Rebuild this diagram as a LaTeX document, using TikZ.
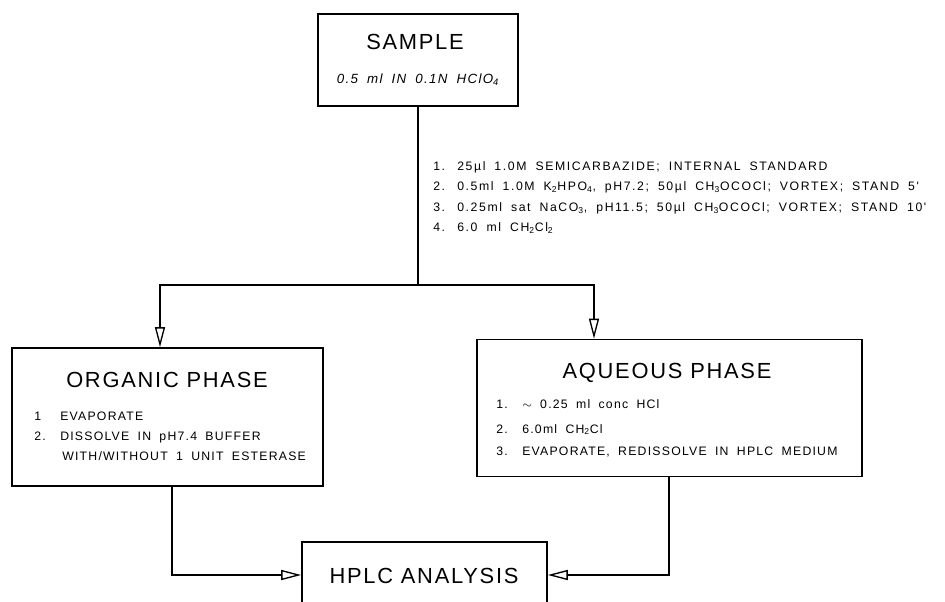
\documentclass[tikz,border=0pt]{standalone}
\usepackage{fontspec}
\setmainfont{Liberation Sans}[LetterSpace=8]
\newfontfamily\stepfont{Liberation Sans}[LetterSpace=10, WordSpace=1.8]
\newfontfamily\mixfont{Liberation Sans}[LetterSpace=13, WordSpace=1.8]
\usetikzlibrary{arrows.meta}

\tikzset{
    stage/.style={draw, line width=1.2pt, inner sep=0pt},
    link/.style={line width=0.9pt},
    flow/.style={link, -{Triangle[open, length=15pt, width=7.5pt, line width=1pt]}},
    title/.style={anchor=base, inner sep=0pt, font=\fontsize{16.4}{18}\selectfont},
    entry/.style={anchor=base west, inner sep=0pt, font=\stepfont\fontsize{9.2}{11}\selectfont},
    mixentry/.style={entry, font=\mixfont\fontsize{9.2}{11}\selectfont},
}

\begin{document}
\begin{tikzpicture}[x=0.75pt, y=-0.75pt]

    \useasboundingbox (0,0) rectangle (945,602);

    % boxes
    \node [stage, minimum width=150pt,    minimum height=69pt]     (sample)  at (418,60)    {};
    \node [stage, minimum width=233.25pt, minimum height=103.5pt]  (organic) at (167.5,417) {};
    \node [stage, minimum width=288.75pt, minimum height=102.75pt] (aqueous) at (669.5,408) {};
    \node [stage, minimum width=183.75pt, minimum height=49.5pt]   (hplc)    at (424.5,575) {};

    % box texts
    \node [title] (sampletitle) at (415,50) {SAMPLE};
    \node [anchor=base, inner sep=0pt, font=\stepfont\fontsize{10}{12}\itshape]
        (samplenote) at (418,84) {0.5 ml IN 0.1N HClO\textsubscript{4}};
    \node [title] (organictitle) at (167,387) {ORGANIC PHASE};
    \node [title] (aqueoustitle) at (667,378) {AQUEOUS PHASE};
    \node [title] (hplctitle)    at (424,583) {HPLC ANALYSIS};

    % derivatization steps
    \draw
        (433,171)   node [mixentry] (mixnoa) {1.}
        (457,171)   node [mixentry] (mixa)   {25µl 1.0M SEMICARBAZIDE; INTERNAL STANDARD}
        (433,191)   node [mixentry] (mixnob) {2.}
        (457,191)   node [mixentry] (mixb)   {0.5ml 1.0M K\textsubscript{2}HPO\textsubscript{4}, pH7.2; 50µl CH\textsubscript{3}OCOCl; VORTEX; STAND 5'}
        (433,211.5) node [mixentry] (mixnoc) {3.}
        (457,211.5) node [mixentry] (mixc)   {0.25ml sat NaCO\textsubscript{3}, pH11.5; 50µl CH\textsubscript{3}OCOCl; VORTEX; STAND 10'}
        (433,231.5) node [mixentry] (mixnod) {4.}
        (457,231.5) node [mixentry] (mixd)   {6.0 ml CH\textsubscript{2}Cl\textsubscript{2}}
    ;

    % organic phase steps
    \draw
        (34,420) node [entry] (orgnoa) {1}
        (60,420) node [entry] (orga)   {EVAPORATE}
        (34,440) node [entry] (orgnob) {2.}
        (60,440) node [entry] (orgb)   {DISSOLVE IN pH7.4 BUFFER}
        (62,460) node [entry] (orgc)   {WITH/WITHOUT 1 UNIT ESTERASE}
    ;

    % aqueous phase steps
    \draw
        (496,408) node [entry] (aqnoa) {1.}
        (522,408) node [entry] (aqa)   {$\sim$ 0.25 ml conc HCl}
        (496,433) node [entry] (aqnob) {2.}
        (522,433) node [entry] (aqb)   {6.0ml CH\textsubscript{2}Cl}
        (496,455) node [entry] (aqnoc) {3.}
        (522,455) node [entry] (aqc)   {EVAPORATE, REDISSOLVE IN HPLC MEDIUM}
    ;

    % connectors
    \coordinate (split)  at (418,285);
    \coordinate (orgx)   at (160,0);
    \coordinate (aqx)    at (594,0);
    \coordinate (orgout) at (172,0);
    \coordinate (aqout)  at (669,0);

    \draw [link] (sample) -- (split);
    \draw [flow] (split) -| (orgx |- organic.north);
    \draw [flow] (split) -| (aqx |- aqueous.north);
    \draw [flow] (orgout |- organic.south) |- (hplc.west);
    \draw [flow] (aqout |- aqueous.south) |- (hplc.east);

\end{tikzpicture}
\end{document}
